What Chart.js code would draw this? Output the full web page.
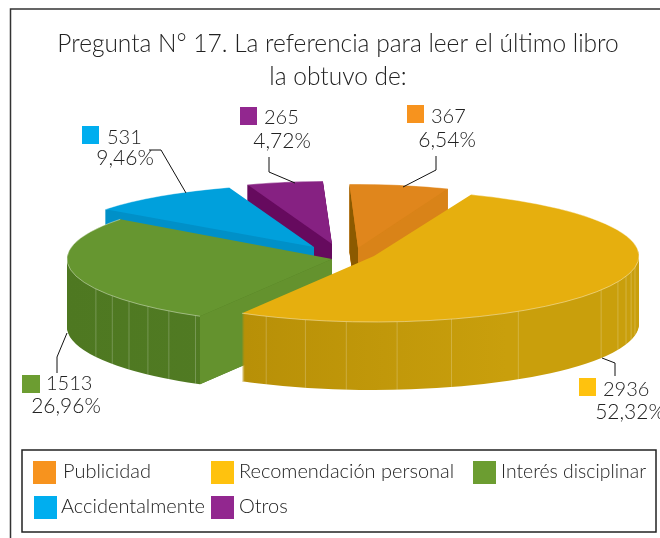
<!DOCTYPE html>
<html><head><meta charset="utf-8">
<style>html,body{margin:0;padding:0;background:#fff}canvas{display:block}</style>
<script src="https://cdn.jsdelivr.net/npm/chart.js@4"></script></head>
<body><canvas id="c" width="660" height="538"></canvas>
<script>
const categories = ['Publicidad','Recomendación personal','Interés disciplinar','Accidentalmente','Otros'];
const values = [367,2936,1513,531,265];
const percents = ['6,54%','52,32%','26,96%','9,46%','4,72%'];
const titleLines = ['Pregunta N° 17. La referencia para leer el último libro','la obtuvo de:'];
const legendColors = ['#F7931E','#FFC20E','#6C9D31','#00AEEF','#92278F'];
const topColors = ['#E0861C','#E6AF0E','#669630','#00A0DC','#862182'];
const FONT = 'Lato, sans-serif';

// purely visual layout of the 3D look
const depth3d = 68;
const radiiX = [245,265,265,261,260];
const radiiY = [64,66,66,63,63];
const apexes = [[358,248],[374,256],[332,259],[314,247],[332,244]];
const rimShades = [['#D98318','#D98318'],['#AF8805','#C99F0C'],['#4E7821','#557F26'],['#0090C8','#0090C8'],['#660A5E','#660A5E']];
const startFaces = ['#8C5A00','#C49A0C','#64922E','#0090C8','#660A5E'];
const endFaces = ['#D98318','#C49A0C','#64922E','#0090C8','#660A5E'];
const paintOrder = [4,3,0,2,1];
const stripes = {1:[100,104,108,113,121,147,163,175,186,195,204],2:[211,218,224,230,236,243]};
const labelBoxes = [
 {sw:[407,105,17,18],tx:431,ty:117,px:447,py:140},
 {sw:[579,378,17,18],tx:603,ty:390,px:630,py:412},
 {sw:[22,375,18,18],tx:46,ty:384,px:66,py:406},
 {sw:[82,126,17,18],tx:107,ty:138,px:125,py:158},
 {sw:[240,107,17,18],tx:264,ty:118,px:282,py:141}];
const leaders = [
 [[436,156],[436,170],[403,187]],
 [[602,358],[615,363],[615,376]],
 [[67,333],[57,357],[57,373]],
 [[149,150],[161,150],[186,193]],
 [[269,157],[269,172],[295,183]]];
const legendSlots = [[33,461,63],[211,461,239],[473,461,501],[34,496,61],[211,496,239]];

const pie3dPlugin = {
  id:'pie3d',
  beforeDatasetsDraw(chart){
    const ctx = chart.ctx, arcs = chart.getDatasetMeta(0).data;
    const paint = (el,color)=>{const s=el.options; el.options={...s,backgroundColor:color}; el.draw(ctx); el.options=s;};
    paintOrder.forEach(i=>{
      const el = arcs[i], R = el.outerRadius, [ax,ay] = apexes[i];
      const rx = radiiX[i], ry = radiiY[i], depth = depth3d;
      const pt = t=>[ax+rx*Math.cos(t), ay+ry*Math.sin(t)];
      const place = dy=>{ctx.translate(ax,ay+dy);ctx.scale(rx/R,ry/R);ctx.translate(-el.x,-el.y);};
      // rim
      ctx.save(); place(0);
      const g = ctx.createLinearGradient(el.x-R,0,el.x+R,0);
      g.addColorStop(0,rimShades[i][0]); g.addColorStop(0.75,rimShades[i][1]); g.addColorStop(1,rimShades[i][1]);
      ctx.restore();
      for(let d=depth;d>0;d--){ctx.save();place(d);paint(el,g);ctx.restore();}
      // stripes on the rim
      (stripes[i]||[]).forEach(a=>{
        const t=(a-90)*Math.PI/180, p=pt(t);
        ctx.strokeStyle='rgba(255,255,255,.22)';ctx.lineWidth=1;
        ctx.beginPath();ctx.moveTo(p[0],p[1]);ctx.lineTo(p[0],p[1]+depth);ctx.stroke();
      });
      // front cut faces
      const face=(t,c)=>{const p=pt(t);ctx.fillStyle=c;ctx.beginPath();ctx.moveTo(ax,ay);ctx.lineTo(p[0],p[1]);ctx.lineTo(p[0],p[1]+depth);ctx.lineTo(ax,ay+depth);ctx.closePath();ctx.fill();};
      if(-Math.cos(el.startAngle)>0) face(el.startAngle,startFaces[i]);
      if(Math.cos(el.endAngle)>0) face(el.endAngle,endFaces[i]);
      // top
      ctx.save(); place(0); paint(el,topColors[i]); ctx.restore();
      // pale rim edge
      ctx.strokeStyle='rgba(255,255,255,.4)';ctx.lineWidth=1;
      ctx.beginPath();ctx.ellipse(ax,ay,rx,ry,0,el.startAngle,el.endAngle);ctx.stroke();
    });
    return false;
  },
  afterDraw(chart){
    const ctx = chart.ctx;
    ctx.save();
    // outer frame
    ctx.strokeStyle='#333';ctx.lineWidth=1.5;
    ctx.beginPath();ctx.moveTo(10.5,538);ctx.lineTo(10.5,9);ctx.lineTo(660,9);ctx.stroke();
    // leaders
    ctx.strokeStyle='#111';ctx.lineWidth=1;
    leaders.forEach(l=>{ctx.beginPath();l.forEach((p,k)=>k?ctx.lineTo(p[0],p[1]):ctx.moveTo(p[0],p[1]));ctx.stroke();});
    // data labels
    ctx.textBaseline='middle';
    ctx.fillStyle='#222';
    labelBoxes.forEach((b,i)=>{
      ctx.fillStyle=legendColors[i];ctx.fillRect(...b.sw);
      ctx.fillStyle='#222';ctx.textAlign='left';ctx.font='300 20px '+FONT;ctx.fillText(String(values[i]),b.tx,b.ty);
      ctx.textAlign='center';ctx.font='300 21px '+FONT;ctx.fillText(percents[i],b.px,b.py);
    });
    // legend
    ctx.strokeStyle='#222';ctx.lineWidth=1.5;ctx.strokeRect(22,450,634,82);
    ctx.textAlign='left';ctx.font='300 20px '+FONT;
    categories.forEach((c,i)=>{
      const [x,y,tx]=legendSlots[i];
      ctx.fillStyle=legendColors[i];ctx.fillRect(x,y,23,23);
      ctx.fillStyle='#222';ctx.fillText(c,tx,y+11,i===2?145:undefined);
    });
    ctx.restore();
  }
};

new Chart(document.getElementById('c'),{
  type:'pie',
  data:{labels:categories,datasets:[{data:values,backgroundColor:topColors,borderWidth:0}]},
  options:{
    responsive:false,animation:false,events:[],rotation:-2,
    layout:{padding:{left:16}},
    plugins:{
      legend:{display:false},tooltip:{enabled:false},
      title:{display:true,text:titleLines,color:'#222',font:{family:FONT,size:24.5,weight:'300',lineHeight:1.33},padding:{top:28,bottom:10}}
    }
  },
  plugins:[pie3dPlugin]
});
</script></body></html>
